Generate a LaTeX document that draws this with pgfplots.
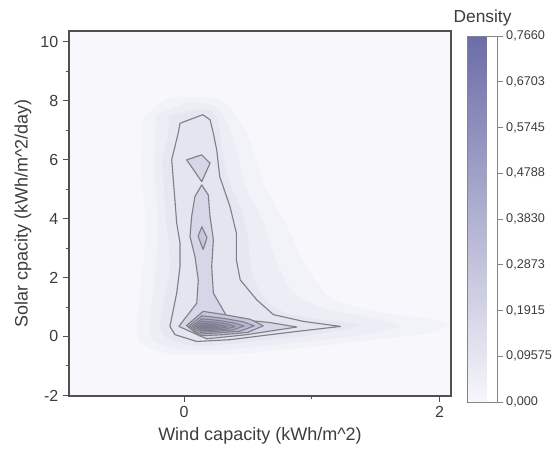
\documentclass[border=0pt]{standalone}
\usepackage{fontspec}
\setmainfont{Liberation Sans}
\usepackage{pgfplots}
\pgfplotsset{compat=1.18}
\definecolor{bg}{RGB}{247,247,252}
\definecolor{dens}{RGB}{108,108,168}
\definecolor{cline}{RGB}{128,128,134}
\definecolor{framec}{RGB}{80,80,80}
\definecolor{txt}{RGB}{60,60,60}

\begin{document}
\begin{tikzpicture}
\path[use as bounding box] (-51.75pt,-44.25pt) rectangle (366pt,297pt);
\begin{axis}[
  scale only axis, width=286.5pt, height=273.75pt,
  xmin=-0.9, xmax=2.09, ymin=-2.02, ymax=10.36,
  xtick={0,2}, minor xtick={1},
  ytick={-2,0,...,10}, minor ytick={-1,1,...,9},
  xtick pos=bottom, ytick pos=left, tick align=outside,
  major tick length=4.5pt, minor tick length=2.5pt,
  axis line style={framec, line width=0.8pt},
  every tick/.style={framec, line width=0.7pt},
  axis background/.style={fill=bg},
  tick label style={font=\fontsize{12}{14}\selectfont, text=txt},
  /pgf/number format/assume math mode=true,
  label style={font=\fontsize{13.5}{16}\selectfont, text=txt},
  xlabel={Wind capacity (kWh/m\textasciicircum 2)},
  ylabel={Solar cpacity (kWh/m\textasciicircum 2/day)},
  colormap={dmap}{rgb255=(247,247,252) rgb255=(108,108,168)},
  colorbar, point meta min=0, point meta max=0.766,
  colorbar shift/.style={xshift=12pt, yshift=-3.75pt},
  colorbar style={
    width=22.5pt, height=274.5pt,
    ytick={0,0.09575,0.1915,0.2873,0.3830,0.4788,0.5745,0.6703,0.7660},
    yticklabels={{0,000},{0,09575},{0,1915},{0,2873},{0,3830},{0,4788},{0,5745},{0,6703},{0,7660}},
    ytick pos=right, tick align=outside, major tick length=4pt,
    axis line style={framec!70, line width=0.6pt},
    every tick/.style={framec!70, line width=0.6pt},
    yticklabel style={font=\fontsize{9.5}{11}\selectfont, text=txt, xshift=-1pt},
    title={Density},
    title style={font=\fontsize{13}{15}\selectfont, text=txt, yshift=-2pt},
  },
]
% diffuse halo around the density ridge
\addplot[draw=none, fill=dens, fill opacity=0.035, smooth, tension=0.4] coordinates {
  (-0.32,7.4) (-0.1,8.1) (0.3,8.0) (0.5,6.8) (0.62,5.2) (0.8,3.8) (0.95,2.4)
  (1.15,1.3) (1.5,0.85) (1.9,0.6) (2.09,0.4) (1.9,0.1) (1.5,-0.1) (1.0,-0.35)
  (0.4,-0.6) (-0.1,-0.6) (-0.36,-0.1) (-0.34,1.5) (-0.3,3.5) (-0.33,5.5)
} -- cycle;
\addplot[draw=none, fill=dens, fill opacity=0.035, smooth, tension=0.4] coordinates {
  (-0.22,7.5) (0.05,7.95) (0.28,7.7) (0.4,6.5) (0.48,5.1) (0.62,3.9) (0.72,2.6)
  (0.85,1.5) (1.1,0.95) (1.5,0.6) (1.7,0.35) (1.4,0.05) (0.9,-0.2) (0.4,-0.42)
  (0.0,-0.45) (-0.26,-0.05) (-0.24,1.5) (-0.2,3.5) (-0.23,5.5)
} -- cycle;
\addplot[draw=none, fill=dens, fill opacity=0.04, smooth, tension=0.4] coordinates {
  (-0.12,7.5) (0.16,7.72) (0.26,7.4) (0.30,6.3) (0.35,5.3) (0.45,4.3) (0.50,3.4)
  (0.52,2.5) (0.56,1.8) (0.66,1.15) (0.8,0.8) (1.0,0.62) (1.38,0.38) (1.0,0.05)
  (0.7,-0.1) (0.36,-0.25) (0.1,-0.32) (-0.12,-0.08) (-0.19,0.35) (-0.14,1.5)
  (-0.11,2.4) (-0.12,3.2) (-0.14,3.9) (-0.15,4.6) (-0.16,5.3) (-0.17,6.0) (-0.12,6.9)
} -- cycle;
% level 1
\addplot[draw=cline, line width=0.85pt, line join=round, fill=dens!13!bg] coordinates {
  (0.147,7.52) (0.204,7.35) (0.23,6.89) (0.256,6.33) (0.28,5.42) (0.36,4.41)
  (0.41,3.51) (0.41,2.60) (0.44,1.92) (0.57,1.24) (0.70,0.74) (0.936,0.51)
  (1.224,0.34) (0.884,0.17) (0.675,0.06) (0.36,-0.11) (0.10,-0.17) (-0.07,0.06)
  (-0.11,0.34) (-0.057,1.47) (-0.031,2.37) (-0.031,3.17) (-0.057,3.84)
  (-0.071,4.64) (-0.084,5.32) (-0.096,6.00) (-0.045,6.90) (-0.031,7.23)
} -- cycle;
% level 2
\addplot[draw=cline, line width=0.85pt, line join=round, fill=dens!24!bg] coordinates {
  (0.021,5.99) (0.139,6.16) (0.204,5.88) (0.139,5.25)
} -- cycle;
\addplot[draw=cline, line width=0.85pt, line join=round, fill=dens!24!bg] coordinates {
  (0.139,5.14) (0.19,4.80) (0.204,4.07) (0.23,3.28) (0.217,2.37) (0.23,1.47)
  (0.335,0.68) (0.44,0.57) (0.675,0.47) (0.884,0.32) (0.49,0.06) (0.178,-0.08)
  (-0.04,0.34) (0.1,1.13) (0.112,1.92) (0.086,2.71) (0.047,3.39) (0.06,4.07)
  (0.086,4.75)
} -- cycle;
% level 3
\addplot[draw=cline, line width=0.85pt, line join=round, fill=dens!35!bg] coordinates {
  (0.14,3.72) (0.18,3.35) (0.15,2.95) (0.11,3.4)
} -- cycle;
\addplot[draw=cline, line width=0.85pt, line join=round, fill=dens!35!bg] coordinates {
  (0.02,0.37) (0.15,0.85) (0.33,0.73) (0.52,0.58) (0.62,0.36) (0.50,0.14)
  (0.3,0.06) (0.12,0.02)
} -- cycle;
% level 4
\addplot[draw=cline, line width=0.85pt, line join=round, fill=dens!46!bg] coordinates {
  (0.04,0.36) (0.14,0.70) (0.30,0.62) (0.46,0.50) (0.55,0.36) (0.44,0.18)
  (0.26,0.12) (0.12,0.08)
} -- cycle;
% level 5
\addplot[draw=cline, line width=0.85pt, line join=round, fill=dens!57!bg] coordinates {
  (0.06,0.35) (0.14,0.60) (0.28,0.54) (0.40,0.45) (0.47,0.35) (0.38,0.22)
  (0.24,0.17) (0.13,0.14)
} -- cycle;
% level 6
\addplot[draw=cline, line width=0.85pt, line join=round, fill=dens!68!bg] coordinates {
  (0.08,0.35) (0.14,0.52) (0.26,0.48) (0.35,0.41) (0.40,0.34) (0.33,0.25)
  (0.22,0.21) (0.14,0.19)
} -- cycle;
% level 7
\addplot[draw=cline, line width=0.85pt, line join=round, fill=dens!79!bg] coordinates {
  (0.10,0.34) (0.145,0.45) (0.24,0.42) (0.30,0.37) (0.34,0.33) (0.28,0.27)
  (0.20,0.24) (0.15,0.23)
} -- cycle;
% level 8
\addplot[draw=cline, line width=0.85pt, line join=round, fill=dens!90!bg] coordinates {
  (0.12,0.33) (0.15,0.39) (0.21,0.37) (0.25,0.34) (0.27,0.32) (0.23,0.29)
  (0.18,0.27) (0.15,0.27)
} -- cycle;
\end{axis}
\end{tikzpicture}
\end{document}
